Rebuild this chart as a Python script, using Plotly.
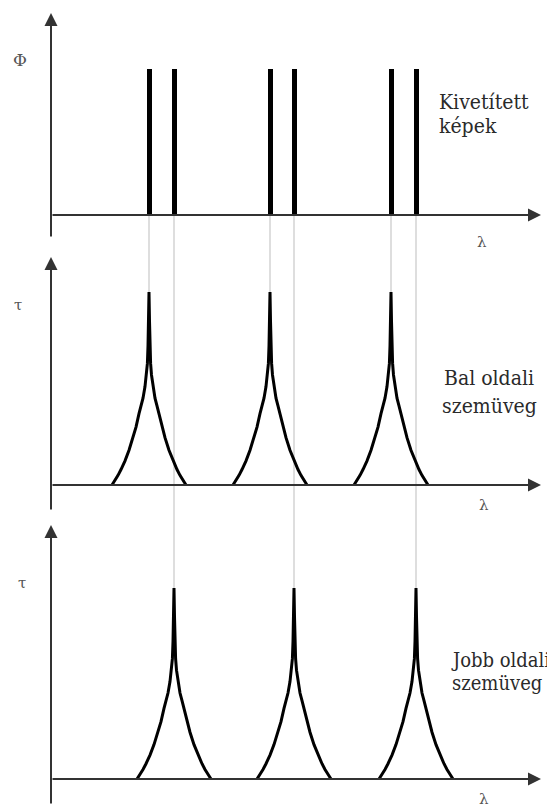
import plotly.graph_objects as go

# page body has an 8px margin in the browser; the figure is sized/anchored accordingly
OFF = 8
W, H = 555 - OFF, 811 - OFF

# ---------------- data (λ in arbitrary units, origin at the τ/Φ axis) ----------------
bar_lambda = [98, 123, 219, 243, 340, 365]      # projected image lines
bar_phi = [1, 1, 1, 1, 1, 1]
left_peaks = [98, 219, 340]                      # left eyeglass filter pass bands
right_peaks = [123, 243, 365]                    # right eyeglass filter pass bands
profile_dx = [0, 0.5, 1.0, 1.6, 2.5, 4, 6, 8, 10, 13, 16, 20, 24, 28, 31, 34, 37]
profile_tau = [1.0, 0.85, 0.72, 0.63, 0.57, 0.51, 0.45, 0.41, 0.37, 0.30, 0.245, 0.18, 0.125, 0.08, 0.05, 0.022, 0.0]
lambda_end = 490

# ---------------- layout helpers (pixel anchors of each panel, reference coords) ----------------
panels = {
    # name: (top, bottom, baseline, unit)
    "y": (OFF, 246, 215, 146),
    "y2": (246, 516, 485, 193),
    "y3": (516, 811, 779, 191),
}

def rng(name):
    top, bottom, base, unit = panels[name]
    return [(base - bottom) / unit, (base - top) / unit]

def dom(name):
    top, bottom, base, unit = panels[name]
    return [1 - (bottom - OFF) / H, 1 - (top - OFF) / H]

def yv(name, py):
    top, bottom, base, unit = panels[name]
    return (base - py) / unit

AX = "#333333"
GRAY = "#bdbdbd"
TXT = "#2a2a2a"
SERIF = "DejaVu Serif Condensed"

fig = go.Figure()

# connector lines
def vline(x, y0, y1, yref):
    fig.add_trace(go.Scatter(x=[x, x], y=[y0, y1], mode="lines", yaxis=yref,
                             line=dict(color=GRAY, width=1), hoverinfo="skip",
                             showlegend=False))

for x in bar_lambda:
    vline(x, 0, rng("y")[0], "y")
for x in left_peaks:
    vline(x, rng("y2")[1], 1, "y2")
for x in right_peaks:
    vline(x, rng("y2")[1], rng("y2")[0], "y2")
    vline(x, rng("y3")[1], 1, "y3")

# bars
fig.add_trace(go.Bar(x=bar_lambda, y=bar_phi, width=5, marker=dict(color="black", line=dict(width=0)),
                     yaxis="y", showlegend=False, hoverinfo="skip"))

# peaks
def peak_xy(centers):
    xs, ys = [], []
    for c in centers:
        for dx, t in zip(reversed(profile_dx), reversed(profile_tau)):
            xs.append(c - dx); ys.append(t)
        for dx, t in zip(profile_dx[1:], profile_tau[1:]):
            xs.append(c + dx); ys.append(t)
        xs.append(None); ys.append(None)
    return xs, ys

for centers, yref in [(left_peaks, "y2"), (right_peaks, "y3")]:
    xs, ys = peak_xy(centers)
    fig.add_trace(go.Scatter(x=xs, y=ys, mode="lines", yaxis=yref,
                             line=dict(color="black", width=3, shape="linear"),
                             hoverinfo="skip", showlegend=False))

annotations = []

def arrow(x0, y0, x1, y1, yref):
    annotations.append(dict(x=x1, y=y1, ax=x0, ay=y0, xref="x", yref=yref, axref="x", ayref=yref,
                            text="", showarrow=True, arrowhead=2, arrowsize=1.3, arrowwidth=2,
                            arrowcolor=AX, standoff=0))

for name, yext, ytip in [("y", 238, 13), ("y2", 511, 257), ("y3", 805, 525)]:
    arrow(0, yv(name, yext), 0, yv(name, ytip), name)
    arrow(0, 0, lambda_end, 0, name)

def label(text, x, y, yref, size, color=TXT, xanchor="center", family=SERIF):
    annotations.append(dict(x=x, y=y, xref="x", yref=yref, text=text, showarrow=False,
                            xanchor=xanchor, yanchor="middle",
                            font=dict(family=family, size=size, color=color)))

label("Φ", -31, yv("y", 60), "y", 17, "#555555", family="DejaVu Serif")
label("τ", -33, yv("y2", 305), "y2", 15, "#555555", family="DejaVu Serif")
label("τ", -29, yv("y3", 583), "y3", 15, "#555555", family="DejaVu Serif")
label("λ", 431, yv("y", 242), "y", 15, "#555555", family="DejaVu Serif")
label("λ", 433, yv("y2", 505), "y2", 15, "#555555", family="DejaVu Serif")
label("λ", 433, yv("y3", 799), "y3", 15, "#555555", family="DejaVu Serif")

label("Kivetített", 386, yv("y", 102), "y", 21, xanchor="left")
label("képek", 386, yv("y", 126), "y", 21, xanchor="left")
label("Bal oldali", 391, yv("y2", 378), "y2", 21, xanchor="left")
label("szemüveg", 389, yv("y2", 406), "y2", 21, xanchor="left")
label("Jobb oldali", 398, yv("y3", 660), "y3", 20, xanchor="left")
label("szemüveg", 399, yv("y3", 683), "y3", 20, xanchor="left")

hidden = dict(visible=False, showgrid=False, zeroline=False, fixedrange=True)
fig.update_layout(
    width=W, height=H,
    margin=dict(l=0, r=0, t=0, b=0),
    paper_bgcolor="white", plot_bgcolor="white",
    showlegend=False,
    font=dict(family=SERIF),
    xaxis=dict(domain=[0, 1], range=[-(51 - OFF), 504], **hidden),
    yaxis=dict(domain=dom("y"), range=rng("y"), anchor="x", **hidden),
    yaxis2=dict(domain=dom("y2"), range=rng("y2"), anchor="x", **hidden),
    yaxis3=dict(domain=dom("y3"), range=rng("y3"), anchor="x", **hidden),
    annotations=annotations,
    bargap=0,
)

fig.write_html("out.html")
